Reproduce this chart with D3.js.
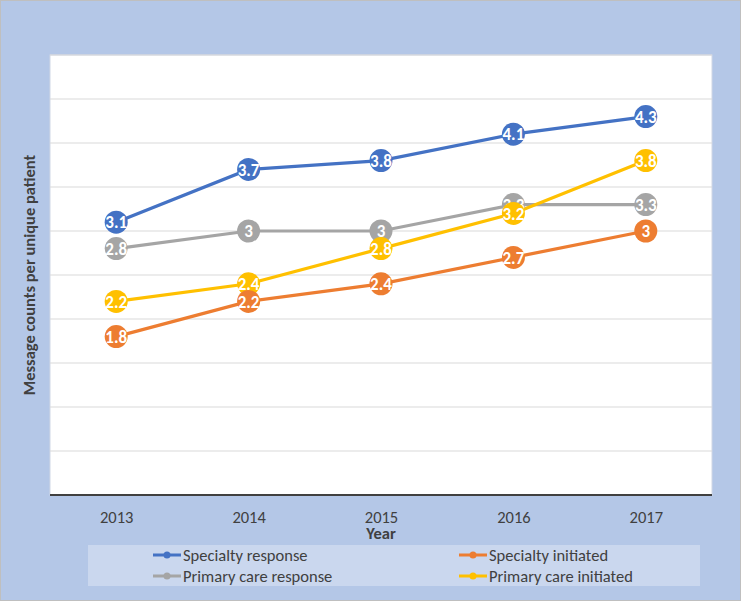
<!DOCTYPE html>
<html><head><meta charset="utf-8">
<script src="https://cdn.jsdelivr.net/npm/d3@7"></script>
<style>body{margin:0;padding:0;background:#fff;}svg{display:block;}</style>
</head><body>
<script>
const years = ["2013","2014","2015","2016","2017"];
const specialtyResponse = [3.1, 3.7, 3.8, 4.1, 4.3];
const specialtyInitiated = [1.8, 2.2, 2.4, 2.7, 3.0];
const primaryResponse = [2.8, 3.0, 3.0, 3.3, 3.3];
const primaryInitiated = [2.2, 2.4, 2.8, 3.2, 3.8];
const seriesNames = ["Specialty response","Specialty initiated","Primary care response","Primary care initiated"];
const seriesColors = ["#4472c4","#ed7d31","#a5a5a5","#ffc000"];
const yTicks = [0,0.5,1,1.5,2,2.5,3,3.5,4,4.5,5];
const xTitle = "Year";
const yTitle = "Message counts per unique patient";

const series = [
  {name: seriesNames[0], values: specialtyResponse, color: seriesColors[0]},
  {name: seriesNames[2], values: primaryResponse, color: seriesColors[2]},
  {name: seriesNames[3], values: primaryInitiated, color: seriesColors[3]},
  {name: seriesNames[1], values: specialtyInitiated, color: seriesColors[1]}
];

const W = 741, H = 601;
const font = "Carlito, Lato, 'Open Sans', sans-serif";
const svg = d3.select("body").append("svg").attr("width", W).attr("height", H);

svg.append("rect").attr("x",0.5).attr("y",0.5).attr("width",W-1).attr("height",H-1)
  .attr("fill","#b4c7e7").attr("stroke","#bfbfbf");

const pl = 50, pr = 712, pt = 55, pb = 495;
svg.append("rect").attr("x",pl).attr("y",pt).attr("width",pr-pl).attr("height",pb-pt)
  .attr("fill","#ffffff").attr("stroke","#d0d7e5").attr("stroke-width",1);

const x = d3.scalePoint().domain(years).range([pl, pr]).padding(0.5);
const y = d3.scaleLinear().domain([0,5]).range([pb, pt]);

// gridlines
svg.append("g").selectAll("line").data(yTicks.filter(t=>t>0)).join("line")
  .attr("x1",pl).attr("x2",pr).attr("y1",d=>y(d)).attr("y2",d=>y(d))
  .attr("stroke","#d9d9d9").attr("stroke-width",1.2);

// x axis
const xAxis = svg.append("g").attr("transform",`translate(0,${pb})`)
  .call(d3.axisBottom(x).tickSize(0).tickPadding(16));
xAxis.select(".domain").attr("stroke","#404040").attr("stroke-width",2)
  .attr("d",`M${pl},0H${pr}`);
xAxis.selectAll("text").attr("font-family",font).attr("font-size",16.5).attr("fill","#404040");

svg.append("text").attr("x",(pl+pr)/2).attr("y",539).attr("text-anchor","middle")
  .attr("font-family",font).attr("font-size",16.5).attr("font-weight","bold").attr("fill","#404040")
  .text(xTitle);

svg.append("text").attr("transform",`translate(35,${(pt+pb)/2}) rotate(-90)`)
  .attr("text-anchor","middle").attr("font-family",font).attr("font-size",16.5)
  .attr("font-weight","bold").attr("fill","#404040").text(yTitle);

const line = d3.line().x((d,i)=>x(years[i])).y(d=>y(d));
series.forEach(s=>{
  svg.append("path").attr("d", line(s.values)).attr("fill","none")
    .attr("stroke", s.color).attr("stroke-width",3.2);
});
series.forEach(s=>{
  const g = svg.append("g");
  g.selectAll("circle").data(s.values).join("circle")
    .attr("cx",(d,i)=>x(years[i])).attr("cy",d=>y(d)).attr("r",11.5)
    .attr("fill",s.color);
  g.selectAll("text").data(s.values).join("text")
    .attr("x",(d,i)=>x(years[i])).attr("y",d=>y(d)).attr("dy","0.36em")
    .attr("text-anchor","middle").attr("font-family",font).attr("font-size",17)
    .attr("font-weight","bold").attr("fill","#ffffff")
    .text(d=>d3.format("")(d));
});

// legend
svg.append("rect").attr("x",88).attr("y",545).attr("width",612).attr("height",41)
  .attr("fill","#cad7ee");
const legendItems = [
  {name: seriesNames[0], color: seriesColors[0], lx: 153, ly: 555},
  {name: seriesNames[1], color: seriesColors[1], lx: 459, ly: 555},
  {name: seriesNames[2], color: seriesColors[2], lx: 153, ly: 576},
  {name: seriesNames[3], color: seriesColors[3], lx: 459, ly: 576}
];
legendItems.forEach(it=>{
  svg.append("line").attr("x1",it.lx).attr("x2",it.lx+28).attr("y1",it.ly).attr("y2",it.ly)
    .attr("stroke",it.color).attr("stroke-width",3);
  svg.append("circle").attr("cx",it.lx+14).attr("cy",it.ly).attr("r",3.5).attr("fill",it.color);
  svg.append("text").attr("x",it.lx+30).attr("y",it.ly).attr("dy","0.36em")
    .attr("font-family",font).attr("font-size",16.5).attr("fill","#404040").text(it.name);
});
</script>
</body></html>
